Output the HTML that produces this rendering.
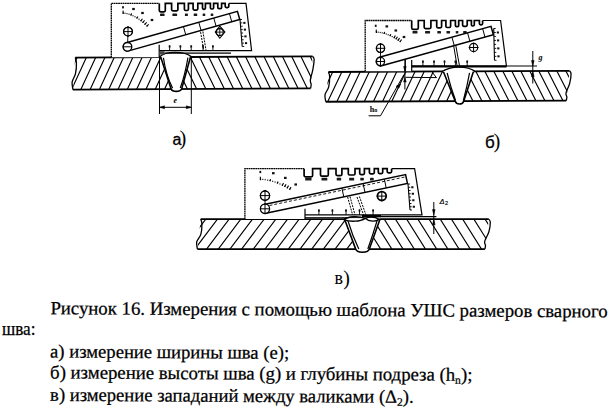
<!DOCTYPE html>
<html><head><meta charset="utf-8"><style>
html,body{margin:0;padding:0;background:#fff;}
svg{display:block;}
</style></head><body>
<svg width="609" height="409" viewBox="0 0 609 409">
<defs><clipPath id="paL"><path d="M75.3,57.0L160.9,57.0L171.1,89.0L72.8,89.0Z"/></clipPath><clipPath id="paR"><path d="M190.6,57.0L312.7,57.0L310.5,89.0L181.5,89.0Z"/></clipPath><clipPath id="pbL"><path d="M328.5,71.45L443.4,71.45L455.2,101.2L325.7,101.2Z"/></clipPath><clipPath id="pbR"><path d="M473.6,71.45L569.6,71.45L566.2,101.2L463.6,101.2Z"/></clipPath><clipPath id="pcL"><path d="M200.7,219.2L344.6,219.2L355.5,249.1L197.4,249.1Z"/></clipPath><clipPath id="pcR"><path d="M380.0,219.2L488.8,219.2L484.9,249.1L369.5,249.1Z"/></clipPath></defs>
<rect width="609" height="409" fill="#fff"/>
<g transform="rotate(-0.31 194.0 73.0)"><path d="M78.50,54.00L60.68,92.00M87.81,54.00L69.99,92.00M97.12,54.00L79.30,92.00M106.43,54.00L88.61,92.00M115.74,54.00L97.92,92.00M125.05,54.00L107.23,92.00M134.36,54.00L116.54,92.00M143.67,54.00L125.85,92.00M152.98,54.00L135.16,92.00M162.29,54.00L144.47,92.00M171.60,54.00L153.78,92.00M180.91,54.00L163.09,92.00" stroke="#000" stroke-width="1.15" fill="none" clip-path="url(#paL)"/><path d="M152.06,54.00L170.34,92.00M161.28,54.00L179.56,92.00M170.50,54.00L188.78,92.00M179.72,54.00L198.00,92.00M188.94,54.00L207.22,92.00M198.16,54.00L216.44,92.00M207.38,54.00L225.66,92.00M216.60,54.00L234.88,92.00M225.82,54.00L244.10,92.00M235.04,54.00L253.32,92.00M244.26,54.00L262.54,92.00M253.48,54.00L271.76,92.00M262.70,54.00L280.98,92.00M271.92,54.00L290.20,92.00M281.14,54.00L299.42,92.00M290.36,54.00L308.64,92.00M299.58,54.00L317.86,92.00M308.80,54.00L327.08,92.00M318.02,54.00L336.30,92.00M327.24,54.00L345.52,92.00M336.46,54.00L354.74,92.00" stroke="#000" stroke-width="1.15" fill="none" clip-path="url(#paR)"/><path d="M75.3,57.0L161.4,57.0M190.1,57.0L312.7,57.0" stroke="#000" stroke-width="1.8" fill="none" /><path d="M72.8,89.0L310.5,89.0" stroke="#000" stroke-width="1.8" fill="none" /><path d="M75.30,57.00C75.50,57.80 76.47,59.13 76.50,61.80C76.53,64.47 76.23,69.75 75.50,73.00C74.77,76.25 72.55,78.65 72.10,81.32C71.65,83.99 72.68,87.72 72.80,89.00" stroke="#000" stroke-width="1.3" fill="none" /><path d="M312.70,57.00C312.95,57.53 314.18,57.96 314.20,60.20C314.22,62.44 313.45,67.03 312.80,70.44C312.15,73.85 310.58,78.23 310.30,80.68C310.02,83.13 311.07,83.77 311.10,85.16C311.13,86.55 310.60,88.36 310.50,89.00" stroke="#000" stroke-width="1.3" fill="none" /><path d="M160.9,57.0L171.1,89.0C172.30,92.07 180.30,92.07 181.5,89.0L190.6,57.0Z" stroke="#000" stroke-width="0" fill="#fff" stroke="none"/><path d="M160.9,57.0L171.1,89.0C172.30,92.07 180.30,92.07 181.5,89.0L190.6,57.0" stroke="#000" stroke-width="1.6" fill="none" /><path d="M163.5,57.6Q166,75 172.5,88" stroke="#000" stroke-width="1.2" fill="none" /><path d="M188,57.6Q185,75 180.2,88" stroke="#000" stroke-width="1.2" fill="none" /><path d="M159.5,56.8C163,53.3 170,52.2 175.5,52.3C182,52.4 188,53.8 191.2,56.6" stroke="#000" stroke-width="1.4" fill="#fff" /></g>
<line x1="159.5" y1="57" x2="159.5" y2="114" stroke="#000" stroke-width="1.0" />
<line x1="191.3" y1="57" x2="191.3" y2="114" stroke="#000" stroke-width="1.0" />
<line x1="159.5" y1="107.3" x2="191.3" y2="107.3" stroke="#000" stroke-width="1.0" />
<path d="M159.5,107.3L164.5,105.8L164.5,108.8Z" stroke="#000" stroke-width="0.5" fill="#000" />
<path d="M191.3,107.3L186.3,105.8L186.3,108.8Z" stroke="#000" stroke-width="0.5" fill="#000" />
<text x="173.4" y="102.8" font-family="Liberation Serif, serif" font-size="8" font-style="italic" font-weight="bold" fill="#000">e</text>
<path d="M111.3,57.3L111.3,3.4L159.30,3.40L159.30,10.60Q159.30,11.90 160.60,11.90L164.00,11.90Q165.30,11.90 165.30,10.60L165.30,3.40L171.60,3.40L171.60,9.50Q171.60,10.80 172.90,10.80L176.60,10.80Q177.90,10.80 177.90,9.50L177.90,3.40L184.40,3.40L184.40,9.20Q184.40,10.50 185.70,10.50L187.10,10.50Q188.40,10.50 188.40,9.20L188.40,3.40L193.10,3.40L193.10,8.80Q193.10,10.10 194.40,10.10L196.50,10.10Q197.80,10.10 197.80,8.80L197.80,3.40L202.50,3.40L202.50,8.10Q202.50,9.40 203.80,9.40L204.10,9.40Q205.40,9.40 205.40,8.10L205.40,3.40L210.40,3.40L210.40,7.70Q210.40,9.00 211.70,9.00L212.30,9.00Q213.60,9.00 213.60,7.70L213.60,3.40L217.80,3.40L217.80,7.40Q217.80,8.70 219.10,8.70L220.30,8.70Q221.60,8.70 221.60,7.40L221.60,3.40L225.20,3.40L225.20,6.30Q225.20,7.60 226.50,7.60L227.50,7.60Q228.80,7.60 228.80,6.30L228.80,3.40L246.0,3.4L251.6,50.7L159.2,50.7L159.2,57.3Z" fill="#fff" stroke="none"/><path d="M111.3,57.3L111.3,3.4L159.3,3.4" stroke="#000" stroke-width="1.3" fill="none" stroke-dasharray="1.8 0.45"/><path d="M159.3,3.4L159.30,3.40L159.30,10.60Q159.30,11.90 160.60,11.90L164.00,11.90Q165.30,11.90 165.30,10.60L165.30,3.40L171.60,3.40L171.60,9.50Q171.60,10.80 172.90,10.80L176.60,10.80Q177.90,10.80 177.90,9.50L177.90,3.40L184.40,3.40L184.40,9.20Q184.40,10.50 185.70,10.50L187.10,10.50Q188.40,10.50 188.40,9.20L188.40,3.40L193.10,3.40L193.10,8.80Q193.10,10.10 194.40,10.10L196.50,10.10Q197.80,10.10 197.80,8.80L197.80,3.40L202.50,3.40L202.50,8.10Q202.50,9.40 203.80,9.40L204.10,9.40Q205.40,9.40 205.40,8.10L205.40,3.40L210.40,3.40L210.40,7.70Q210.40,9.00 211.70,9.00L212.30,9.00Q213.60,9.00 213.60,7.70L213.60,3.40L217.80,3.40L217.80,7.40Q217.80,8.70 219.10,8.70L220.30,8.70Q221.60,8.70 221.60,7.40L221.60,3.40L225.20,3.40L225.20,6.30Q225.20,7.60 226.50,7.60L227.50,7.60Q228.80,7.60 228.80,6.30L228.80,3.40L228.8,3.4" stroke="#000" stroke-width="1.7" fill="none" /><path d="M228.8,3.4L246.0,3.4L251.6,50.7L159.2,50.7" stroke="#000" stroke-width="1.2" fill="none" /><rect x="122.40" y="12.40" width="1.2" height="1.2" fill="#222"/><rect x="124.40" y="12.64" width="1.2" height="1.2" fill="#222"/><rect x="126.40" y="13.03" width="1.2" height="1.2" fill="#222"/><rect x="128.40" y="13.58" width="1.2" height="1.2" fill="#222"/><rect x="130.40" y="14.28" width="1.2" height="1.2" fill="#222"/><rect x="132.40" y="15.13" width="1.2" height="1.2" fill="#222"/><rect x="134.40" y="16.14" width="1.2" height="1.2" fill="#222"/><rect x="136.40" y="17.30" width="1.2" height="1.2" fill="#222"/><rect x="138.40" y="18.61" width="1.2" height="1.2" fill="#222"/><rect x="140.40" y="20.08" width="1.2" height="1.2" fill="#222"/><rect x="142.40" y="21.70" width="1.2" height="1.2" fill="#222"/><rect x="144.40" y="23.47" width="1.2" height="1.2" fill="#222"/><rect x="146.40" y="25.40" width="1.2" height="1.2" fill="#222"/><line x1="123.0" y1="10.6" x2="123.3" y2="14.0" stroke="#000" stroke-width="1.1" /><line x1="130.78" y1="15.44" x2="131.58" y2="13.39" stroke="#000" stroke-width="1.1" /><line x1="136.68" y1="18.41" x2="137.84" y2="16.54" stroke="#000" stroke-width="1.1" /><line x1="140.63" y1="21.15" x2="142.47" y2="18.78" stroke="#000" stroke-width="1.1" /><line x1="142.61" y1="22.76" x2="144.55" y2="20.47" stroke="#000" stroke-width="1.1" /><line x1="144.59" y1="24.51" x2="146.63" y2="22.31" stroke="#000" stroke-width="1.1" /><line x1="146.58" y1="26.43" x2="148.67" y2="24.27" stroke="#000" stroke-width="1.1" /><rect x="122.10" y="6.20" width="1.8" height="2.2" fill="#111"/><rect x="132.20" y="7.90" width="2.6" height="2.2" fill="#111"/><rect x="141.20" y="11.90" width="2.6" height="2.2" fill="#111"/><rect x="150.70" y="18.90" width="2.6" height="2.2" fill="#111"/><rect x="160.05" y="13.40" width="4.50" height="2.7" rx="0.6" fill="#1a1a1a"/><rect x="172.39" y="13.40" width="4.73" height="2.7" rx="0.6" fill="#1a1a1a"/><rect x="184.90" y="13.40" width="3.00" height="2.7" rx="0.6" fill="#1a1a1a"/><rect x="193.69" y="13.40" width="3.53" height="2.7" rx="0.6" fill="#1a1a1a"/><rect x="202.65" y="13.40" width="2.60" height="2.7" rx="0.6" fill="#1a1a1a"/><rect x="210.70" y="13.40" width="2.60" height="2.7" rx="0.6" fill="#1a1a1a"/><circle cx="128" cy="31.6" r="4.3" stroke="#000" stroke-width="1.3" fill="#fff"/><line x1="123.7" y1="31.6" x2="132.3" y2="31.6" stroke="#000" stroke-width="1.0" /><line x1="128" y1="26.3" x2="128" y2="36.9" stroke="#000" stroke-width="1.0" /><path d="M219.8,26.15L224.88,32.1L219.8,38.23L215.25,32.1Z" stroke="#000" stroke-width="1.1" fill="none" /><circle cx="219.8" cy="32.1" r="3.5" stroke="#000" stroke-width="1.1" fill="none"/><line x1="216.3" y1="32.1" x2="223.3" y2="32.1" stroke="#000" stroke-width="0.9" /><line x1="219.8" y1="28.6" x2="219.8" y2="35.6" stroke="#000" stroke-width="0.9" /><line x1="169.6" y1="45.2" x2="169.6" y2="50.7" stroke="#000" stroke-width="0.9" /><rect x="168.70" y="45.50" width="1.8" height="2" fill="#111"/><line x1="180.4" y1="45.2" x2="180.4" y2="50.7" stroke="#000" stroke-width="0.9" /><rect x="179.50" y="45.50" width="1.8" height="2" fill="#111"/><line x1="191.2" y1="45.2" x2="191.2" y2="50.7" stroke="#000" stroke-width="0.9" /><rect x="190.30" y="45.50" width="1.8" height="2" fill="#111"/><line x1="203" y1="45.2" x2="203" y2="50.7" stroke="#000" stroke-width="0.9" /><rect x="202.10" y="45.50" width="1.8" height="2" fill="#111"/><line x1="212.9" y1="45.2" x2="212.9" y2="50.7" stroke="#000" stroke-width="0.9" /><rect x="212.00" y="45.50" width="1.8" height="2" fill="#111"/><path d="M159.2,44.7L159.2,57.3" stroke="#000" stroke-width="1.2" fill="none" /><line x1="240" y1="19.5" x2="242.2" y2="46.5" stroke="#000" stroke-width="1.1" /><line x1="240.0" y1="19.5" x2="242.0" y2="19.5" stroke="#000" stroke-width="0.9" /><line x1="240.28" y1="22.88" x2="242.28" y2="22.88" stroke="#000" stroke-width="0.9" /><line x1="240.55" y1="26.25" x2="242.55" y2="26.25" stroke="#000" stroke-width="0.9" /><line x1="240.82" y1="29.62" x2="242.82" y2="29.62" stroke="#000" stroke-width="0.9" /><line x1="241.1" y1="33.0" x2="243.1" y2="33.0" stroke="#000" stroke-width="0.9" /><line x1="241.38" y1="36.38" x2="243.38" y2="36.38" stroke="#000" stroke-width="0.9" /><line x1="241.65" y1="39.75" x2="243.65" y2="39.75" stroke="#000" stroke-width="0.9" /><line x1="241.92" y1="43.12" x2="243.92" y2="43.12" stroke="#000" stroke-width="0.9" /><line x1="242.2" y1="46.5" x2="244.2" y2="46.5" stroke="#000" stroke-width="0.9" /><rect x="243.28" y="21.88" width="2.2" height="2" fill="#111"/><rect x="243.82" y="28.62" width="2.2" height="2" fill="#111"/><rect x="244.38" y="35.38" width="2.2" height="2" fill="#111"/><rect x="244.92" y="42.12" width="2.2" height="2" fill="#111"/><line x1="199.6" y1="26.2" x2="203.8" y2="50.7" stroke="#000" stroke-width="1.0" stroke-dasharray="2 1"/><line x1="201.9" y1="25.6" x2="206.1" y2="50.7" stroke="#000" stroke-width="1.0" stroke-dasharray="2 1"/><path d="M126.34,42.71L237.44,11.31L239.76,19.49L128.66,50.89A4.25,4.25 0 0 1 126.34,42.71Z" stroke="#000" stroke-width="1.5" fill="#fff" /><line x1="183.45" y1="26.57" x2="185.76" y2="34.75" stroke="#000" stroke-width="1.0" /><line x1="198.78" y1="22.24" x2="201.09" y2="30.42" stroke="#000" stroke-width="1.0" /><line x1="213.78" y1="18.0" x2="216.09" y2="26.18" stroke="#000" stroke-width="1.0" /><line x1="229.44" y1="13.57" x2="231.76" y2="21.75" stroke="#000" stroke-width="1.0" /><line x1="128" y1="31.6" x2="127.5" y2="46.8" stroke="#000" stroke-width="0.9" /><circle cx="127.5" cy="46.8" r="4.3" stroke="#000" stroke-width="1.3" fill="#fff"/><line x1="123.2" y1="46.8" x2="131.8" y2="46.8" stroke="#000" stroke-width="1.0" /><circle cx="128" cy="31.6" r="4.3" stroke="#000" stroke-width="1.3" fill="#fff"/><line x1="123.7" y1="31.6" x2="132.3" y2="31.6" stroke="#000" stroke-width="1.0" /><line x1="128" y1="26.3" x2="128" y2="36.9" stroke="#000" stroke-width="1.0" />
<line x1="164.5" y1="53.2" x2="231" y2="53.2" stroke="#000" stroke-width="1.3" />
<rect x="159.4" y="51.2" width="5.2" height="3.4" fill="#444"/>
<g transform="rotate(-0.26 449.1 86.3)"><path d="M325.04,68.45L307.86,104.20M334.19,68.45L317.01,104.20M343.34,68.45L326.16,104.20M352.49,68.45L335.31,104.20M361.64,68.45L344.46,104.20M370.79,68.45L353.61,104.20M379.94,68.45L362.76,104.20M389.09,68.45L371.91,104.20M398.24,68.45L381.06,104.20M407.39,68.45L390.21,104.20M416.54,68.45L399.36,104.20M425.69,68.45L408.51,104.20M434.84,68.45L417.66,104.20M443.99,68.45L426.81,104.20M453.14,68.45L435.96,104.20M462.29,68.45L445.11,104.20" stroke="#000" stroke-width="1.15" fill="none" clip-path="url(#pbL)"/><path d="M438.39,68.45L456.41,104.20M447.39,68.45L465.41,104.20M456.39,68.45L474.41,104.20M465.39,68.45L483.41,104.20M474.39,68.45L492.41,104.20M483.39,68.45L501.41,104.20M492.39,68.45L510.41,104.20M501.39,68.45L519.41,104.20M510.39,68.45L528.41,104.20M519.39,68.45L537.41,104.20M528.39,68.45L546.41,104.20M537.39,68.45L555.41,104.20M546.39,68.45L564.41,104.20M555.39,68.45L573.41,104.20M564.39,68.45L582.41,104.20M573.39,68.45L591.41,104.20M582.39,68.45L600.41,104.20M591.39,68.45L609.41,104.20" stroke="#000" stroke-width="1.15" fill="none" clip-path="url(#pbR)"/><path d="M328.5,71.45L443.9,71.45M473.1,71.45L569.6,71.45" stroke="#000" stroke-width="1.8" fill="none" /><path d="M325.7,101.2L566.2,101.2" stroke="#000" stroke-width="1.8" fill="none" /><path d="M328.50,71.45C328.70,72.19 329.67,73.43 329.70,75.91C329.73,78.39 329.48,83.30 328.70,86.33C327.92,89.35 325.50,91.58 325.00,94.06C324.50,96.54 325.58,100.01 325.70,101.20" stroke="#000" stroke-width="1.3" fill="none" /><path d="M569.60,71.45C569.85,71.95 571.08,72.34 571.10,74.42C571.12,76.51 570.55,80.77 569.70,83.95C568.85,87.12 566.48,91.18 566.00,93.47C565.52,95.75 566.77,96.34 566.80,97.63C566.83,98.92 566.30,100.61 566.20,101.20" stroke="#000" stroke-width="1.3" fill="none" /><path d="M443.4,71.45L455.2,101.2C456.40,104.93 462.40,104.93 463.6,101.2L473.6,71.45Z" stroke="#000" stroke-width="0" fill="#fff" stroke="none"/><path d="M443.4,71.45L455.2,101.2C456.40,104.93 462.40,104.93 463.6,101.2L473.6,71.45" stroke="#000" stroke-width="1.6" fill="none" /><path d="M447.2,73Q450.5,87 455.5,100.5" stroke="#000" stroke-width="1.2" fill="none" /><path d="M469.6,73Q467,87 463.3,100.5" stroke="#000" stroke-width="1.2" fill="none" /><path d="M441.5,72C447,68.3 453,67.2 459,67.2C465,67.3 471,68.5 475,71.5" stroke="#000" stroke-width="1.4" fill="#fff" /></g>
<path d="M365.2,71.3L365.2,20.5L411.70,20.50L411.70,28.00Q411.70,29.30 413.00,29.30L417.00,29.30Q418.30,29.30 418.30,28.00L418.30,20.50L424.20,20.50L424.20,27.30Q424.20,28.60 425.50,28.60L429.60,28.60Q430.90,28.60 430.90,27.30L430.90,20.50L436.70,20.50L436.70,26.50Q436.70,27.80 438.00,27.80L440.30,27.80Q441.60,27.80 441.60,26.50L441.60,20.50L445.90,20.50L445.90,26.20Q445.90,27.50 447.20,27.50L449.30,27.50Q450.60,27.50 450.60,26.20L450.60,20.50L455.40,20.50L455.40,25.40Q455.40,26.70 456.70,26.70L457.40,26.70Q458.70,26.70 458.70,25.40L458.70,20.50L462.60,20.50L462.60,25.10Q462.60,26.40 463.90,26.40L465.90,26.40Q467.20,26.40 467.20,25.10L467.20,20.50L471.40,20.50L471.40,24.70Q471.40,26.00 472.70,26.00L473.00,26.00Q474.30,26.00 474.30,24.70L474.30,20.50L479.40,20.50L479.40,23.60Q479.40,24.90 480.70,24.90L481.30,24.90Q482.60,24.90 482.60,23.60L482.60,20.50L500.6,20.5L506.4,65.9L411.7,65.9L411.7,71.3Z" fill="#fff" stroke="none"/><path d="M365.2,71.3L365.2,20.5L411.7,20.5" stroke="#000" stroke-width="1.3" fill="none" stroke-dasharray="1.8 0.45"/><path d="M411.7,20.5L411.70,20.50L411.70,28.00Q411.70,29.30 413.00,29.30L417.00,29.30Q418.30,29.30 418.30,28.00L418.30,20.50L424.20,20.50L424.20,27.30Q424.20,28.60 425.50,28.60L429.60,28.60Q430.90,28.60 430.90,27.30L430.90,20.50L436.70,20.50L436.70,26.50Q436.70,27.80 438.00,27.80L440.30,27.80Q441.60,27.80 441.60,26.50L441.60,20.50L445.90,20.50L445.90,26.20Q445.90,27.50 447.20,27.50L449.30,27.50Q450.60,27.50 450.60,26.20L450.60,20.50L455.40,20.50L455.40,25.40Q455.40,26.70 456.70,26.70L457.40,26.70Q458.70,26.70 458.70,25.40L458.70,20.50L462.60,20.50L462.60,25.10Q462.60,26.40 463.90,26.40L465.90,26.40Q467.20,26.40 467.20,25.10L467.20,20.50L471.40,20.50L471.40,24.70Q471.40,26.00 472.70,26.00L473.00,26.00Q474.30,26.00 474.30,24.70L474.30,20.50L479.40,20.50L479.40,23.60Q479.40,24.90 480.70,24.90L481.30,24.90Q482.60,24.90 482.60,23.60L482.60,20.50L482.6,20.5" stroke="#000" stroke-width="1.7" fill="none" /><path d="M482.6,20.5L500.6,20.5L506.4,65.9L411.7,65.9" stroke="#000" stroke-width="1.2" fill="none" /><rect x="375.60" y="31.40" width="1.2" height="1.2" fill="#222"/><rect x="377.60" y="31.57" width="1.2" height="1.2" fill="#222"/><rect x="379.60" y="31.86" width="1.2" height="1.2" fill="#222"/><rect x="381.60" y="32.26" width="1.2" height="1.2" fill="#222"/><rect x="383.60" y="32.77" width="1.2" height="1.2" fill="#222"/><rect x="385.60" y="33.40" width="1.2" height="1.2" fill="#222"/><rect x="387.60" y="34.13" width="1.2" height="1.2" fill="#222"/><rect x="389.60" y="34.98" width="1.2" height="1.2" fill="#222"/><rect x="391.60" y="35.94" width="1.2" height="1.2" fill="#222"/><rect x="393.60" y="37.01" width="1.2" height="1.2" fill="#222"/><rect x="395.60" y="38.20" width="1.2" height="1.2" fill="#222"/><rect x="397.60" y="39.49" width="1.2" height="1.2" fill="#222"/><rect x="399.60" y="40.90" width="1.2" height="1.2" fill="#222"/><line x1="376.2" y1="29.6" x2="376.5" y2="33.0" stroke="#000" stroke-width="1.1" /><line x1="384.04" y1="33.95" x2="384.64" y2="31.83" stroke="#000" stroke-width="1.1" /><line x1="389.95" y1="36.13" x2="390.86" y2="34.12" stroke="#000" stroke-width="1.1" /><line x1="393.91" y1="38.13" x2="395.38" y2="35.52" stroke="#000" stroke-width="1.1" /><line x1="395.88" y1="39.31" x2="397.46" y2="36.76" stroke="#000" stroke-width="1.1" /><line x1="397.86" y1="40.59" x2="399.54" y2="38.1" stroke="#000" stroke-width="1.1" /><line x1="399.85" y1="41.99" x2="401.58" y2="39.54" stroke="#000" stroke-width="1.1" /><rect x="374.80" y="24.70" width="1.8" height="2.2" fill="#111"/><rect x="385.50" y="25.30" width="2.6" height="2.2" fill="#111"/><rect x="394.50" y="29.40" width="2.6" height="2.2" fill="#111"/><rect x="402.70" y="35.90" width="2.6" height="2.2" fill="#111"/><rect x="412.52" y="30.90" width="4.95" height="2.7" rx="0.6" fill="#1a1a1a"/><rect x="425.04" y="30.90" width="5.02" height="2.7" rx="0.6" fill="#1a1a1a"/><rect x="437.31" y="30.90" width="3.68" height="2.7" rx="0.6" fill="#1a1a1a"/><rect x="446.49" y="30.90" width="3.53" height="2.7" rx="0.6" fill="#1a1a1a"/><rect x="455.75" y="30.90" width="2.60" height="2.7" rx="0.6" fill="#1a1a1a"/><rect x="463.18" y="30.90" width="3.45" height="2.7" rx="0.6" fill="#1a1a1a"/><circle cx="380.5" cy="48.3" r="4.1" stroke="#000" stroke-width="1.3" fill="#fff"/><line x1="376.4" y1="48.3" x2="384.6" y2="48.3" stroke="#000" stroke-width="1.0" /><line x1="380.5" y1="43.199999999999996" x2="380.5" y2="53.4" stroke="#000" stroke-width="1.0" /><circle cx="473.6" cy="47.5" r="4.1" stroke="#000" stroke-width="1.2" fill="#fff"/><line x1="468.7" y1="47.5" x2="478.50000000000006" y2="47.5" stroke="#000" stroke-width="1.0" /><line x1="473.6" y1="42.6" x2="473.6" y2="52.4" stroke="#000" stroke-width="1.0" /><line x1="422.9" y1="60.400000000000006" x2="422.9" y2="65.9" stroke="#000" stroke-width="0.9" /><rect x="422.00" y="60.70" width="1.8" height="2" fill="#111"/><line x1="434" y1="60.400000000000006" x2="434" y2="65.9" stroke="#000" stroke-width="0.9" /><rect x="433.10" y="60.70" width="1.8" height="2" fill="#111"/><line x1="444.5" y1="60.400000000000006" x2="444.5" y2="65.9" stroke="#000" stroke-width="0.9" /><rect x="443.60" y="60.70" width="1.8" height="2" fill="#111"/><line x1="455.4" y1="60.400000000000006" x2="455.4" y2="65.9" stroke="#000" stroke-width="0.9" /><rect x="454.50" y="60.70" width="1.8" height="2" fill="#111"/><line x1="467.2" y1="60.400000000000006" x2="467.2" y2="65.9" stroke="#000" stroke-width="0.9" /><rect x="466.30" y="60.70" width="1.8" height="2" fill="#111"/><path d="M411.7,59.900000000000006L411.7,71.3" stroke="#000" stroke-width="1.2" fill="none" /><line x1="493.7" y1="28.5" x2="494.5" y2="60.3" stroke="#000" stroke-width="1.1" /><line x1="493.7" y1="28.5" x2="495.7" y2="28.5" stroke="#000" stroke-width="0.9" /><line x1="493.8" y1="32.48" x2="495.8" y2="32.48" stroke="#000" stroke-width="0.9" /><line x1="493.9" y1="36.45" x2="495.9" y2="36.45" stroke="#000" stroke-width="0.9" /><line x1="494.0" y1="40.42" x2="496.0" y2="40.42" stroke="#000" stroke-width="0.9" /><line x1="494.1" y1="44.4" x2="496.1" y2="44.4" stroke="#000" stroke-width="0.9" /><line x1="494.2" y1="48.38" x2="496.2" y2="48.38" stroke="#000" stroke-width="0.9" /><line x1="494.3" y1="52.35" x2="496.3" y2="52.35" stroke="#000" stroke-width="0.9" /><line x1="494.4" y1="56.32" x2="496.4" y2="56.32" stroke="#000" stroke-width="0.9" /><line x1="494.5" y1="60.3" x2="496.5" y2="60.3" stroke="#000" stroke-width="0.9" /><rect x="496.80" y="31.48" width="2.2" height="2" fill="#111"/><rect x="497.00" y="39.42" width="2.2" height="2" fill="#111"/><rect x="497.20" y="47.38" width="2.2" height="2" fill="#111"/><rect x="497.40" y="55.32" width="2.2" height="2" fill="#111"/><line x1="452.2" y1="37.1" x2="457.1" y2="65.9" stroke="#000" stroke-width="1.0" /><line x1="454.2" y1="36.7" x2="459.5" y2="65.9" stroke="#000" stroke-width="1.0" /><path d="M379.33,57.26L491.03,26.36L493.37,34.84L381.67,65.74A4.40,4.40 0 0 1 379.33,57.26Z" stroke="#000" stroke-width="1.5" fill="#fff" /><line x1="451.93" y1="37.17" x2="454.28" y2="45.66" stroke="#000" stroke-width="1.0" /><line x1="467.57" y1="32.85" x2="469.92" y2="41.33" stroke="#000" stroke-width="1.0" /><line x1="482.65" y1="28.68" x2="485.0" y2="37.16" stroke="#000" stroke-width="1.0" /><line x1="380.5" y1="48.3" x2="380.5" y2="61.5" stroke="#000" stroke-width="0.9" /><circle cx="380.5" cy="61.5" r="4.1" stroke="#000" stroke-width="1.3" fill="#fff"/><line x1="376.4" y1="61.5" x2="384.6" y2="61.5" stroke="#000" stroke-width="1.0" /><line x1="380.5" y1="56.4" x2="380.5" y2="66.6" stroke="#000" stroke-width="1.0" /><circle cx="380.5" cy="48.3" r="4.1" stroke="#000" stroke-width="1.3" fill="#fff"/><line x1="376.4" y1="48.3" x2="384.6" y2="48.3" stroke="#000" stroke-width="1.0" /><line x1="380.5" y1="43.199999999999996" x2="380.5" y2="53.4" stroke="#000" stroke-width="1.0" />
<path d="M405.4,71.3L405.4,59.3M405.4,77.3L436.4,77.6M431.9,71.6L436.6,78" stroke="#000" stroke-width="1.0" fill="none" />
<line x1="411.7" y1="66.6" x2="506.5" y2="66.6" stroke="#000" stroke-width="1.8" />
<line x1="506" y1="66" x2="537" y2="66" stroke="#000" stroke-width="1.0" />
<line x1="404.9" y1="60" x2="404.9" y2="89.5" stroke="#000" stroke-width="1.0" />
<path d="M404.9,71.3L403.5,66.5L406.3,66.5Z" stroke="#000" stroke-width="0.4" fill="#000" />
<path d="M404.9,77.3L403.5,82.1L406.3,82.1Z" stroke="#000" stroke-width="0.4" fill="#000" />
<path d="M368.6,115.8L380.5,115.8L404,74.5" stroke="#000" stroke-width="1.0" fill="none" />
<path d="M396.2,86.2L398.8,88.2L400.6,84.2Z" stroke="#000" stroke-width="0.6" fill="#000" />
<text x="369.8" y="111.6" font-family="Liberation Serif, serif" font-size="8" font-weight="bold" fill="#000">h</text>
<text x="374.2" y="112.3" font-family="Liberation Serif, serif" font-size="5.5" font-weight="bold" fill="#000">n</text>
<line x1="532.8" y1="51" x2="532.8" y2="83.5" stroke="#000" stroke-width="1.0" />
<path d="M532.8,66L531.4,60.5L534.2,60.5Z" stroke="#000" stroke-width="0.4" fill="#000" />
<path d="M532.8,71.3L531.4,76.8L534.2,76.8Z" stroke="#000" stroke-width="0.4" fill="#000" />
<text x="538.6" y="60.2" font-family="Liberation Serif, serif" font-size="8" font-style="italic" font-weight="bold" fill="#000">g</text>
<g transform="rotate(0.0 344.8 234.1)"><path d="M196.30,216.20L169.28,252.10M207.98,216.20L180.96,252.10M219.66,216.20L192.64,252.10M231.34,216.20L204.32,252.10M243.02,216.20L216.00,252.10M254.70,216.20L227.68,252.10M266.38,216.20L239.36,252.10M278.06,216.20L251.04,252.10M289.74,216.20L262.72,252.10M301.42,216.20L274.40,252.10M313.10,216.20L286.08,252.10M324.78,216.20L297.76,252.10M336.46,216.20L309.44,252.10M348.14,216.20L321.12,252.10M359.82,216.20L332.80,252.10M371.50,216.20L344.48,252.10" stroke="#000" stroke-width="1.15" fill="none" clip-path="url(#pcL)"/><path d="M337.61,216.20L360.19,252.10M348.81,216.20L371.39,252.10M360.01,216.20L382.59,252.10M371.21,216.20L393.79,252.10M382.41,216.20L404.99,252.10M393.61,216.20L416.19,252.10M404.81,216.20L427.39,252.10M416.01,216.20L438.59,252.10M427.21,216.20L449.79,252.10M438.41,216.20L460.99,252.10M449.61,216.20L472.19,252.10M460.81,216.20L483.39,252.10M472.01,216.20L494.59,252.10M483.21,216.20L505.79,252.10M494.41,216.20L516.99,252.10M505.61,216.20L528.19,252.10" stroke="#000" stroke-width="1.15" fill="none" clip-path="url(#pcR)"/><path d="M200.7,219.2L345.1,219.2M379.5,219.2L488.8,219.2" stroke="#000" stroke-width="1.8" fill="none" /><path d="M197.4,249.1L484.9,249.1" stroke="#000" stroke-width="1.8" fill="none" /><path d="M200.70,219.20C200.90,219.95 201.87,221.19 201.90,223.69C201.93,226.18 201.77,231.11 200.90,234.15C200.03,237.19 197.28,239.43 196.70,241.92C196.12,244.42 197.28,247.90 197.40,249.10" stroke="#000" stroke-width="1.3" fill="none" /><path d="M488.80,219.20C489.05,219.70 490.28,220.10 490.30,222.19C490.32,224.28 489.83,228.57 488.90,231.76C487.97,234.95 485.27,239.03 484.70,241.33C484.13,243.62 485.47,244.22 485.50,245.51C485.53,246.81 485.00,248.50 484.90,249.10" stroke="#000" stroke-width="1.3" fill="none" /><path d="M344.6,219.2L355.5,248.6C356.70,253.40 368.30,253.40 369.5,248.6L380.0,219.2Z" stroke="#000" stroke-width="0" fill="#fff" stroke="none"/><path d="M344.6,219.2L355.5,248.6C356.70,253.40 368.30,253.40 369.5,248.6L380.0,219.2" stroke="#000" stroke-width="1.6" fill="none" /><path d="M348,221Q352.5,236 358.8,249" stroke="#000" stroke-width="1.2" fill="none" /><path d="M377,221Q372.5,236 367.8,249" stroke="#000" stroke-width="1.2" fill="none" /><path d="M343.8,219.6C348,216.3 358,215.6 365.2,218.3C360,221.8 350,222 343.8,219.6Z" stroke="#000" stroke-width="1.4" fill="#fff" /><path d="M365.2,218.3C370,216.5 375,216.8 379.2,219.4C376,221.8 369,222 365.2,218.3Z" stroke="#000" stroke-width="1.4" fill="#fff" /></g>
<path d="M244.9,219.0L244.9,168.7L304.10,168.70L304.10,175.60Q304.10,176.90 305.40,176.90L311.30,176.90Q312.60,176.90 312.60,175.60L312.60,168.70L320.50,168.70L320.50,174.90Q320.50,176.20 321.80,176.20L327.00,176.20Q328.30,176.20 328.30,174.90L328.30,168.70L336.00,168.70L336.00,174.30Q336.00,175.60 337.30,175.60L340.60,175.60Q341.90,175.60 341.90,174.30L341.90,168.70L348.30,168.70L348.30,173.70Q348.30,175.00 349.60,175.00L353.70,175.00Q355.00,175.00 355.00,173.70L355.00,168.70L359.70,168.70L359.70,173.30Q359.70,174.60 361.00,174.60L363.10,174.60Q364.40,174.60 364.40,173.30L364.40,168.70L369.40,168.70L369.40,172.60Q369.40,173.90 370.70,173.90L373.00,173.90Q374.30,173.90 374.30,172.60L374.30,168.70L378.30,168.70L378.30,172.30Q378.30,173.60 379.60,173.60L381.40,173.60Q382.70,173.60 382.70,172.30L382.70,168.70L387.20,168.70L387.20,171.60Q387.20,172.90 388.50,172.90L390.30,172.90Q391.60,172.90 391.60,171.60L391.60,168.70L414.6,168.7L422.0,214.8L305.0,214.8L305.0,219.0Z" fill="#fff" stroke="none"/><path d="M244.9,219.0L244.9,168.7L304.1,168.7" stroke="#000" stroke-width="1.3" fill="none" stroke-dasharray="1.8 0.45"/><path d="M304.1,168.7L304.10,168.70L304.10,175.60Q304.10,176.90 305.40,176.90L311.30,176.90Q312.60,176.90 312.60,175.60L312.60,168.70L320.50,168.70L320.50,174.90Q320.50,176.20 321.80,176.20L327.00,176.20Q328.30,176.20 328.30,174.90L328.30,168.70L336.00,168.70L336.00,174.30Q336.00,175.60 337.30,175.60L340.60,175.60Q341.90,175.60 341.90,174.30L341.90,168.70L348.30,168.70L348.30,173.70Q348.30,175.00 349.60,175.00L353.70,175.00Q355.00,175.00 355.00,173.70L355.00,168.70L359.70,168.70L359.70,173.30Q359.70,174.60 361.00,174.60L363.10,174.60Q364.40,174.60 364.40,173.30L364.40,168.70L369.40,168.70L369.40,172.60Q369.40,173.90 370.70,173.90L373.00,173.90Q374.30,173.90 374.30,172.60L374.30,168.70L378.30,168.70L378.30,172.30Q378.30,173.60 379.60,173.60L381.40,173.60Q382.70,173.60 382.70,172.30L382.70,168.70L387.20,168.70L387.20,171.60Q387.20,172.90 388.50,172.90L390.30,172.90Q391.60,172.90 391.60,171.60L391.60,168.70L391.6,168.7" stroke="#000" stroke-width="1.7" fill="none" /><path d="M391.6,168.7L414.6,168.7L422.0,214.8L305.0,214.8" stroke="#000" stroke-width="1.2" fill="none" /><rect x="259.70" y="178.60" width="1.2" height="1.2" fill="#222"/><rect x="262.16" y="178.78" width="1.2" height="1.2" fill="#222"/><rect x="264.62" y="179.09" width="1.2" height="1.2" fill="#222"/><rect x="267.07" y="179.51" width="1.2" height="1.2" fill="#222"/><rect x="269.53" y="180.04" width="1.2" height="1.2" fill="#222"/><rect x="271.99" y="180.70" width="1.2" height="1.2" fill="#222"/><rect x="274.45" y="181.47" width="1.2" height="1.2" fill="#222"/><rect x="276.91" y="182.37" width="1.2" height="1.2" fill="#222"/><rect x="279.37" y="183.38" width="1.2" height="1.2" fill="#222"/><rect x="281.82" y="184.51" width="1.2" height="1.2" fill="#222"/><rect x="284.28" y="185.75" width="1.2" height="1.2" fill="#222"/><rect x="286.74" y="187.12" width="1.2" height="1.2" fill="#222"/><rect x="289.20" y="188.60" width="1.2" height="1.2" fill="#222"/><line x1="260.3" y1="176.8" x2="260.6" y2="180.2" stroke="#000" stroke-width="1.1" /><line x1="269.99" y1="181.23" x2="270.51" y2="179.09" stroke="#000" stroke-width="1.1" /><line x1="277.29" y1="183.53" x2="278.09" y2="181.48" stroke="#000" stroke-width="1.1" /><line x1="282.16" y1="185.65" x2="283.47" y2="182.95" stroke="#000" stroke-width="1.1" /><line x1="284.6" y1="186.88" x2="286.01" y2="184.23" stroke="#000" stroke-width="1.1" /><line x1="287.04" y1="188.24" x2="288.54" y2="185.64" stroke="#000" stroke-width="1.1" /><line x1="289.49" y1="189.71" x2="291.04" y2="187.14" stroke="#000" stroke-width="1.1" /><rect x="259.40" y="170.90" width="1.8" height="2.2" fill="#111"/><rect x="272.00" y="172.10" width="2.6" height="2.2" fill="#111"/><rect x="284.00" y="176.80" width="2.6" height="2.2" fill="#111"/><rect x="294.40" y="183.40" width="2.6" height="2.2" fill="#111"/><rect x="305.16" y="177.80" width="6.38" height="2.7" rx="0.6" fill="#1a1a1a"/><rect x="321.47" y="177.80" width="5.85" height="2.7" rx="0.6" fill="#1a1a1a"/><rect x="336.74" y="177.80" width="4.42" height="2.7" rx="0.6" fill="#1a1a1a"/><rect x="349.14" y="177.80" width="5.02" height="2.7" rx="0.6" fill="#1a1a1a"/><rect x="360.29" y="177.80" width="3.52" height="2.7" rx="0.6" fill="#1a1a1a"/><rect x="370.01" y="177.80" width="3.68" height="2.7" rx="0.6" fill="#1a1a1a"/><circle cx="265.0" cy="195.6" r="4.6" stroke="#000" stroke-width="1.3" fill="#fff"/><line x1="260.4" y1="195.6" x2="269.6" y2="195.6" stroke="#000" stroke-width="1.0" /><line x1="265.0" y1="190.0" x2="265.0" y2="201.2" stroke="#000" stroke-width="1.0" /><circle cx="381.8" cy="196.1" r="4.4" stroke="#000" stroke-width="1.8" fill="#fff"/><line x1="376.6" y1="196.1" x2="387.0" y2="196.1" stroke="#000" stroke-width="1.0" /><line x1="381.8" y1="190.89999999999998" x2="381.8" y2="201.3" stroke="#000" stroke-width="1.0" /><line x1="318.9" y1="209.3" x2="318.9" y2="214.8" stroke="#000" stroke-width="0.9" /><rect x="318.00" y="209.60" width="1.8" height="2" fill="#111"/><line x1="332.4" y1="209.3" x2="332.4" y2="214.8" stroke="#000" stroke-width="0.9" /><rect x="331.50" y="209.60" width="1.8" height="2" fill="#111"/><line x1="346" y1="209.3" x2="346" y2="214.8" stroke="#000" stroke-width="0.9" /><rect x="345.10" y="209.60" width="1.8" height="2" fill="#111"/><line x1="359.5" y1="209.3" x2="359.5" y2="214.8" stroke="#000" stroke-width="0.9" /><rect x="358.60" y="209.60" width="1.8" height="2" fill="#111"/><line x1="373.1" y1="209.3" x2="373.1" y2="214.8" stroke="#000" stroke-width="0.9" /><rect x="372.20" y="209.60" width="1.8" height="2" fill="#111"/><path d="M305.0,208.8L305.0,219.0" stroke="#000" stroke-width="1.2" fill="none" /><line x1="408" y1="184" x2="410" y2="210" stroke="#000" stroke-width="1.1" /><line x1="408.0" y1="184.0" x2="410.0" y2="184.0" stroke="#000" stroke-width="0.9" /><line x1="408.25" y1="187.25" x2="410.25" y2="187.25" stroke="#000" stroke-width="0.9" /><line x1="408.5" y1="190.5" x2="410.5" y2="190.5" stroke="#000" stroke-width="0.9" /><line x1="408.75" y1="193.75" x2="410.75" y2="193.75" stroke="#000" stroke-width="0.9" /><line x1="409.0" y1="197.0" x2="411.0" y2="197.0" stroke="#000" stroke-width="0.9" /><line x1="409.25" y1="200.25" x2="411.25" y2="200.25" stroke="#000" stroke-width="0.9" /><line x1="409.5" y1="203.5" x2="411.5" y2="203.5" stroke="#000" stroke-width="0.9" /><line x1="409.75" y1="206.75" x2="411.75" y2="206.75" stroke="#000" stroke-width="0.9" /><line x1="410.0" y1="210.0" x2="412.0" y2="210.0" stroke="#000" stroke-width="0.9" /><rect x="411.25" y="186.25" width="2.2" height="2" fill="#111"/><rect x="411.75" y="192.75" width="2.2" height="2" fill="#111"/><rect x="412.25" y="199.25" width="2.2" height="2" fill="#111"/><rect x="412.75" y="205.75" width="2.2" height="2" fill="#111"/><line x1="347.6" y1="197" x2="352.6" y2="214.8" stroke="#000" stroke-width="1.0" stroke-dasharray="2 1"/><line x1="350" y1="196.5" x2="355" y2="214.8" stroke="#000" stroke-width="1.0" stroke-dasharray="2 1"/><line x1="357" y1="197" x2="363.5" y2="214.8" stroke="#000" stroke-width="1.0" stroke-dasharray="2 1"/><line x1="359.4" y1="196.5" x2="365.9" y2="214.8" stroke="#000" stroke-width="1.0" stroke-dasharray="2 1"/><path d="M264.07,204.40L405.57,174.60L407.43,183.40L265.93,213.20A4.50,4.50 0 0 1 264.07,204.40Z" stroke="#000" stroke-width="1.5" fill="#fff" /><line x1="341.9" y1="188.01" x2="343.75" y2="196.81" stroke="#000" stroke-width="1.0" /><line x1="363.12" y1="183.54" x2="364.98" y2="192.34" stroke="#000" stroke-width="1.0" /><line x1="384.35" y1="179.07" x2="386.2" y2="187.87" stroke="#000" stroke-width="1.0" /><path d="M264.53,206.55L406.03,176.75" stroke="#000" stroke-width="0.9" fill="none" stroke-dasharray="3 2"/><line x1="265.0" y1="195.6" x2="265.0" y2="208.8" stroke="#000" stroke-width="0.9" /><circle cx="265.0" cy="208.8" r="4.6" stroke="#000" stroke-width="1.3" fill="#fff"/><line x1="260.4" y1="208.8" x2="269.6" y2="208.8" stroke="#000" stroke-width="1.0" /><line x1="265.0" y1="203.20000000000002" x2="265.0" y2="214.4" stroke="#000" stroke-width="1.0" /><circle cx="265.0" cy="195.6" r="4.6" stroke="#000" stroke-width="1.3" fill="#fff"/><line x1="260.4" y1="195.6" x2="269.6" y2="195.6" stroke="#000" stroke-width="1.0" /><line x1="265.0" y1="190.0" x2="265.0" y2="201.2" stroke="#000" stroke-width="1.0" />
<line x1="362" y1="216.2" x2="381" y2="216.2" stroke="#000" stroke-width="2.4" />
<line x1="381" y1="216.6" x2="436.4" y2="216.6" stroke="#000" stroke-width="1.3" />
<line x1="305" y1="217.6" x2="362" y2="217.6" stroke="#000" stroke-width="0.9" />
<line x1="433.8" y1="202" x2="433.8" y2="234" stroke="#000" stroke-width="1.0" />
<path d="M433.8,215L432.4,209.5L435.2,209.5Z" stroke="#000" stroke-width="0.4" fill="#000" />
<path d="M433.8,219.2L432.4,224.7L435.2,224.7Z" stroke="#000" stroke-width="0.4" fill="#000" />
<text x="439.4" y="204.3" font-family="Liberation Sans, sans-serif" font-size="7.5" font-style="italic" fill="#000" stroke="#000" stroke-width="0.2">Δ</text>
<text x="444.9" y="205.3" font-family="Liberation Sans, sans-serif" font-size="5.5" fill="#000" stroke="#000" stroke-width="0.2">2</text>
<text x="172.6" y="144.6" font-family="Liberation Sans, sans-serif" font-size="16" fill="#000" stroke="#000" stroke-width="0.3">a</text>
<text x="179.6" y="145.3" font-family="Liberation Serif, serif" font-size="20.5" fill="#000">)</text>
<text x="485.0" y="147.8" font-family="Liberation Sans, sans-serif" font-size="17" fill="#000" stroke="#000" stroke-width="0.3">б</text>
<text x="493.6" y="148.0" font-family="Liberation Serif, serif" font-size="20.5" fill="#000">)</text>
<text x="334.6" y="283.5" font-family="Liberation Serif, serif" font-size="18" fill="#000">в</text>
<text x="343.2" y="284.6" font-family="Liberation Serif, serif" font-size="20" fill="#000">)</text>
<text x="50.4" y="314.2" transform="rotate(0.33 50.4 314.2)" font-family="Liberation Serif, serif" font-size="18.65" fill="#000" stroke="#000" stroke-width="0.25" textLength="557.2" lengthAdjust="spacingAndGlyphs">Рисунок 16. Измерения с помощью шаблона УШС размеров сварного</text>
<text x="2.0" y="334.7" transform="rotate(0 2.0 334.7)" font-family="Liberation Serif, serif" font-size="18.65" fill="#000" stroke="#000" stroke-width="0.25" textLength="33.5" lengthAdjust="spacingAndGlyphs">шва:</text>
<text x="50.1" y="357.5" transform="rotate(0.33 50.1 357.5)" font-family="Liberation Serif, serif" font-size="18.65" fill="#000" stroke="#000" stroke-width="0.25" textLength="239.0" lengthAdjust="spacingAndGlyphs">а) измерение ширины шва (е);</text>
<text x="50.1" y="378.4" transform="rotate(0.33 50.1 378.4)" font-family="Liberation Serif, serif" font-size="18.65" fill="#000" stroke="#000" stroke-width="0.25" textLength="422.3" lengthAdjust="spacingAndGlyphs">б) измерение высоты шва (g) и глубины подреза (h<tspan font-size="11.5" dy="3">n</tspan><tspan dy="-3">);</tspan></text>
<text x="50.1" y="400.8" transform="rotate(0.33 50.1 400.8)" font-family="Liberation Serif, serif" font-size="18.65" fill="#000" stroke="#000" stroke-width="0.25" textLength="363.6" lengthAdjust="spacingAndGlyphs">в) измерение западаний между валиками (Δ<tspan font-size="11.5" dy="3">2</tspan><tspan dy="-3">).</tspan></text>
</svg>
</body></html>
